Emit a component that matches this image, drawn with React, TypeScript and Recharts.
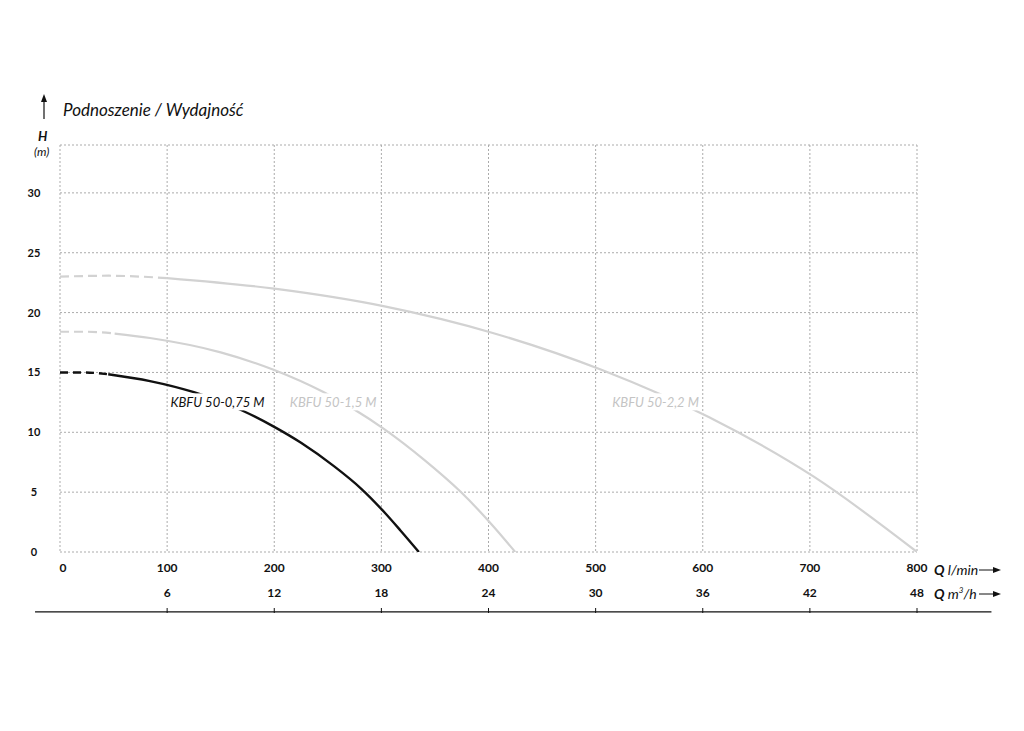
import React from 'react';
import {
  LineChart,
  Line,
  XAxis,
  YAxis,
  CartesianGrid,
  ReferenceDot,
  ReferenceLine,
} from 'recharts';

// flow axis (l/min) and the matching m3/h row
const flowTicks = [0, 100, 200, 300, 400, 500, 600, 700, 800];
const flowM3hLabels = ['', '6', '12', '18', '24', '30', '36', '42', '48'];
const headTicks = [0, 5, 10, 15, 20, 25, 30, 34];
const headLabels = ['0', '5', '10', '15', '20', '25', '30', ''];

// pump curves, dashed start + solid part
const kbfu075Dashed = [
  { q: 0, h: 15.0 },
  { q: 22, h: 15.0 },
  { q: 45, h: 14.85 },
];
const kbfu075Solid = [
  { q: 45, h: 14.85 },
  { q: 84, h: 14.28 },
  { q: 125, h: 13.35 },
  { q: 170, h: 11.82 },
  { q: 200, h: 10.45 },
  { q: 225, h: 9.12 },
  { q: 256, h: 7.15 },
  { q: 281, h: 5.3 },
  { q: 303, h: 3.3 },
  { q: 318, h: 1.78 },
  { q: 335, h: 0 },
];

const kbfu15Dashed = [
  { q: 0, h: 18.4 },
  { q: 25, h: 18.4 },
  { q: 51, h: 18.25 },
];
const kbfu15Solid = [
  { q: 51, h: 18.25 },
  { q: 84, h: 17.88 },
  { q: 150, h: 16.68 },
  { q: 200, h: 15.2 },
  { q: 245, h: 13.4 },
  { q: 274, h: 11.95 },
  { q: 303, h: 10.25 },
  { q: 340, h: 7.7 },
  { q: 374, h: 5.03 },
  { q: 404, h: 2.2 },
  { q: 425, h: 0 },
];

const kbfu22Dashed = [
  { q: 0, h: 23.0 },
  { q: 45, h: 23.08 },
  { q: 100, h: 22.88 },
];
const kbfu22Solid = [
  { q: 100, h: 22.88 },
  { q: 200, h: 22.0 },
  { q: 303, h: 20.52 },
  { q: 404, h: 18.3 },
  { q: 506, h: 15.2 },
  { q: 606, h: 11.25 },
  { q: 704, h: 6.27 },
  { q: 800, h: 0 },
];

const curveLabels = [
  { q: 147, h: 12.5, text: 'KBFU 50-0,75 M', color: '#111111' },
  { q: 255, h: 12.5, text: 'KBFU 50-1,5 M', color: '#c4c4c4' },
  { q: 556, h: 12.5, text: 'KBFU 50-2,2 M', color: '#c4c4c4' },
];

const FONT = 'Lato, "Open Sans", sans-serif';
const GREY = '#d2d2d2';

const FlowTick = (props: any) => {
  const { x, y, payload } = props;
  const i = flowTicks.indexOf(payload.value);
  return (
    <g>
      <text
        x={payload.value === 0 ? x + 3 : x}
        y={y + 12}
        textAnchor="middle"
        fontFamily={FONT}
        fontWeight={700}
        fontSize={12}
        fill="#111"
      >
        {payload.value}
      </text>
      {flowM3hLabels[i] && (
        <>
          <text
            x={x}
            y={y + 37}
            textAnchor="middle"
            fontFamily={FONT}
            fontWeight={700}
            fontSize={12}
            fill="#111"
          >
            {flowM3hLabels[i]}
          </text>
          <line x1={x} x2={x} y1={y + 48} y2={y + 53} stroke="#111" strokeWidth={1} />
        </>
      )}
    </g>
  );
};

const HeadTick = (props: any) => {
  const { x, y, payload } = props;
  const i = headTicks.indexOf(payload.value);
  return (
    <text
      x={x - 18}
      y={y + 4}
      textAnchor="middle"
      fontFamily={FONT}
      fontWeight={700}
      fontSize={11}
      fill="#111"
    >
      {headLabels[i]}
    </text>
  );
};

const CurveLabel = (text: string, color: string) => (props: any) => {
  const { cx, cy } = props;
  return (
    <g>
      <rect x={cx - 46} y={cy - 9} width={92} height={17} fill="#fff" />
      <text
        x={cx}
        y={cy + 5}
        textAnchor="middle"
        fontFamily={FONT}
        fontStyle="italic"
        fontSize={13}
        fill={color}
      >
        {text}
      </text>
    </g>
  );
};

const Arrow = ({ x, y, len }: { x: number; y: number; len: number }) => (
  <svg
    width={len + 2}
    height={10}
    style={{ position: 'absolute', left: x, top: y - 5 }}
  >
    <line x1={0} y1={5} x2={len - 6} y2={5} stroke="#111" strokeWidth={1} />
    <polygon points={`${len - 8},2 ${len},5 ${len - 8},8`} fill="#111" />
  </svg>
);

export default function App() {
  return (
    <div
      style={{
        position: 'absolute',
        left: 0,
        top: 0,
        width: 1024,
        height: 731,
        background: '#fff',
        fontFamily: FONT,
        color: '#111',
      }}
    >
      <LineChart
        width={1024}
        height={731}
        margin={{ top: 145, right: 107, bottom: 119, left: 0 }}
      >
        <CartesianGrid stroke="#ababab" strokeDasharray="2 2" strokeWidth={1} />
        <XAxis
          dataKey="q"
          type="number"
          domain={[0, 800]}
          ticks={flowTicks}
          axisLine={false}
          tickLine={false}
          height={60}
          tick={<FlowTick />}
          allowDataOverflow
        />
        <YAxis
          type="number"
          domain={[0, 34]}
          ticks={headTicks}
          axisLine={false}
          tickLine={false}
          width={60}
          tick={<HeadTick />}
          allowDataOverflow
        />
        <ReferenceLine
          segment={[
            { x: -23.3, y: -5.0 },
            { x: 869.5, y: -5.0 },
          ]}
          stroke="#111"
          strokeWidth={1.2}
          ifOverflow="visible"
        />

        <Line data={kbfu22Dashed} dataKey="h" type="monotoneX" stroke={GREY} strokeWidth={2.2} strokeDasharray="9 5" dot={false} isAnimationActive={false} />
        <Line data={kbfu22Solid} dataKey="h" type="monotoneX" stroke={GREY} strokeWidth={2.2} dot={false} isAnimationActive={false} />
        <Line data={kbfu15Dashed} dataKey="h" type="monotoneX" stroke={GREY} strokeWidth={2.2} strokeDasharray="9 5" dot={false} isAnimationActive={false} />
        <Line data={kbfu15Solid} dataKey="h" type="monotoneX" stroke={GREY} strokeWidth={2.2} dot={false} isAnimationActive={false} />
        <Line data={kbfu075Dashed} dataKey="h" type="monotoneX" stroke="#111" strokeWidth={2.4} strokeDasharray="8 5" dot={false} isAnimationActive={false} />
        <Line data={kbfu075Solid} dataKey="h" type="monotoneX" stroke="#111" strokeWidth={2.4} dot={false} isAnimationActive={false} />

        {curveLabels.map((l) => (
          <ReferenceDot
            key={l.text}
            x={l.q}
            y={l.h}
            ifOverflow="visible"
            shape={CurveLabel(l.text, l.color)}
          />
        ))}
      </LineChart>

      {/* axis titles */}
      <svg width={10} height={26} style={{ position: 'absolute', left: 39, top: 94 }}>
        <line x1={5} y1={4} x2={5} y2={25} stroke="#111" strokeWidth={1.2} />
        <polygon points="2,8 5,0 8,8" fill="#111" />
      </svg>
      <div style={{ position: 'absolute', left: 63, top: 99, fontSize: 17, fontStyle: 'italic', whiteSpace: 'nowrap' }}>
        Podnoszenie / Wydajność
      </div>
      <div style={{ position: 'absolute', left: 38, top: 128, fontSize: 13, fontStyle: 'italic', fontWeight: 700 }}>
        H
      </div>
      <div style={{ position: 'absolute', left: 34, top: 144, fontSize: 12, fontStyle: 'italic' }}>
        (m)
      </div>

      <div style={{ position: 'absolute', left: 934, top: 561, fontSize: 14, fontStyle: 'italic', whiteSpace: 'nowrap' }}>
        <b>Q</b> l/min
      </div>
      <Arrow x={979} y={570} len={22} />
      <div style={{ position: 'absolute', left: 934, top: 585, fontSize: 14, fontStyle: 'italic', whiteSpace: 'nowrap' }}>
        <b>Q</b> m<sup style={{ fontSize: 8 }}>3</sup>/h
      </div>
      <Arrow x={979} y={594} len={22} />
    </div>
  );
}
